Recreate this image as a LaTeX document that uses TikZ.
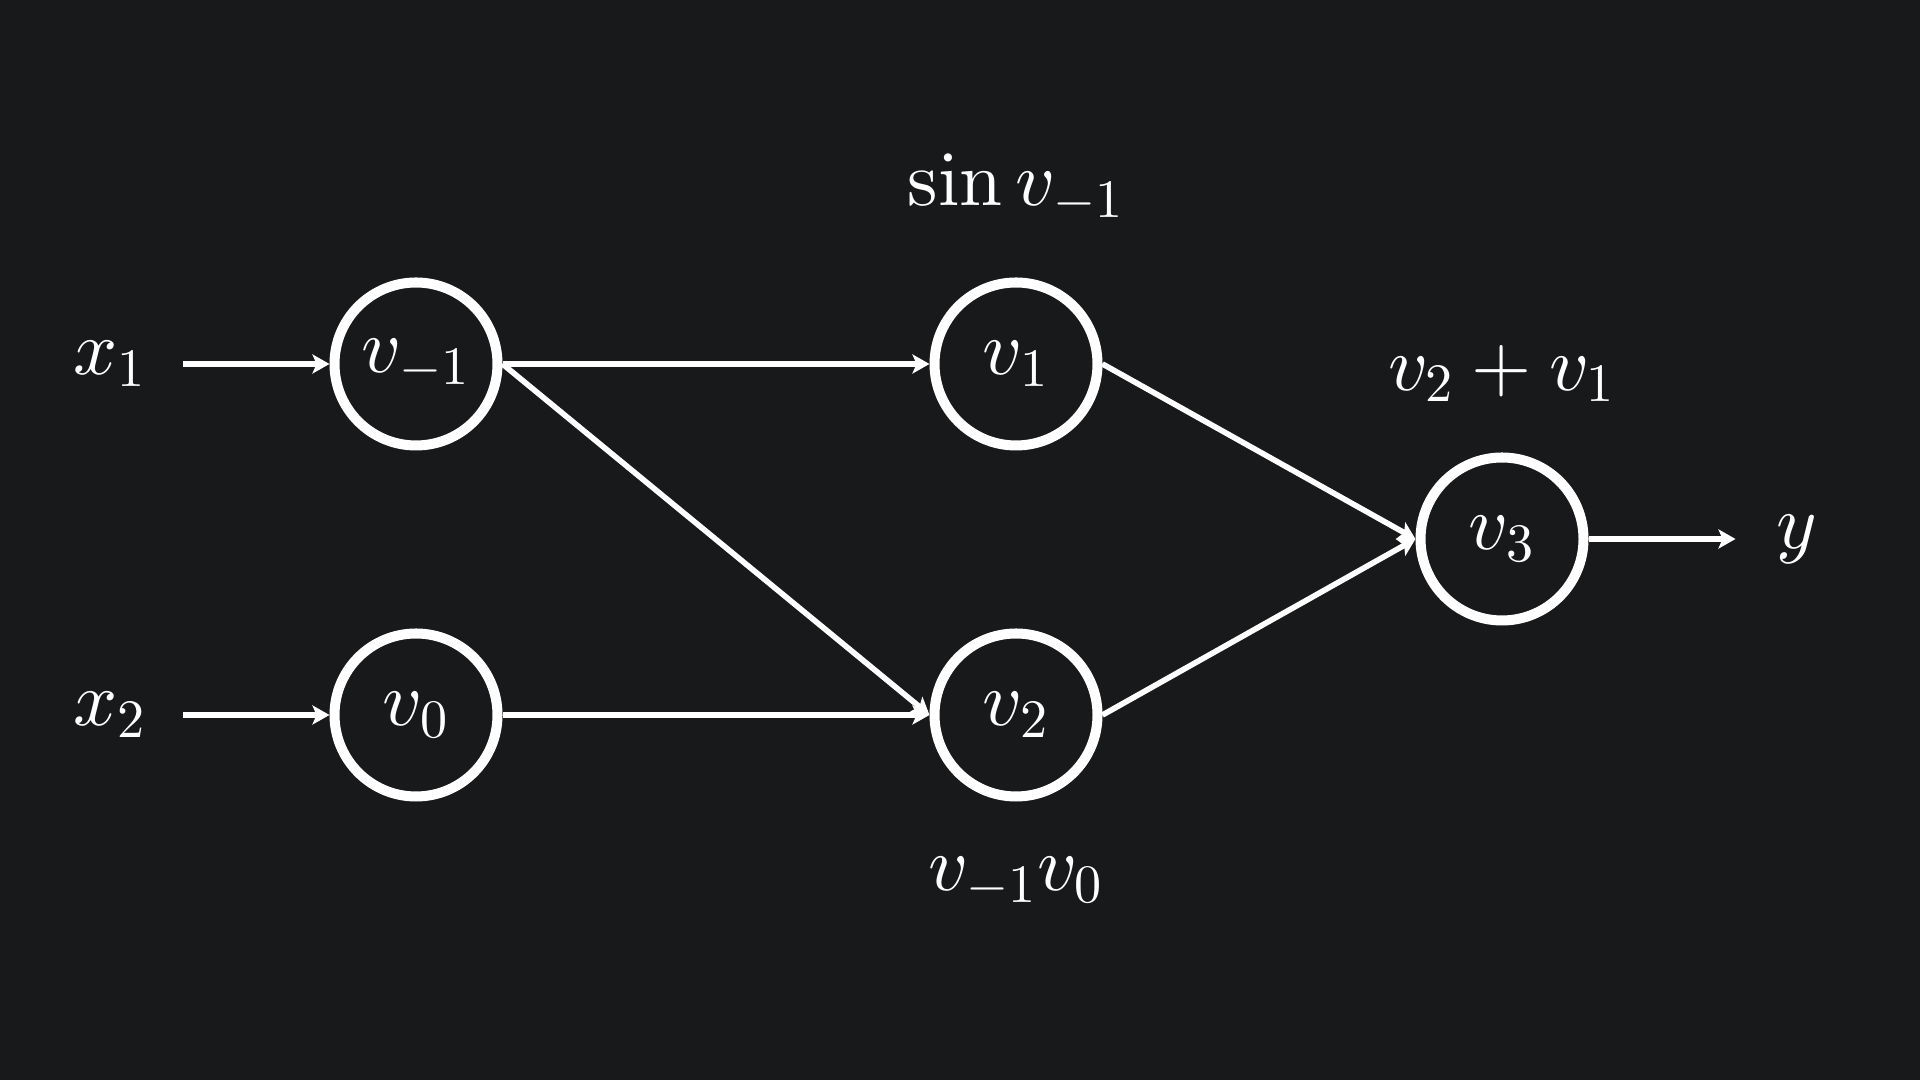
\documentclass[tikz,border=0pt]{standalone}
\usepackage{tikz}
\usetikzlibrary{arrows.meta,positioning}
\DeclareFontShape{OT1}{cmr}{m}{n}{<->cmr10}{}
\DeclareFontShape{OML}{cmm}{m}{it}{<->cmmi10}{}
\DeclareFontShape{OMS}{cmsy}{m}{n}{<->cmsy10}{}
\definecolor{graphbg}{HTML}{18191B}
\definecolor{graphfg}{HTML}{FFFFFF}

\begin{document}
\begin{tikzpicture}[
    var/.style={circle, draw=graphfg, fill=graphbg, line width=2.85pt, minimum size=1.63cm, inner sep=0pt, font=\fontsize{22}{26}\selectfont, text=graphfg},
    lbl/.style={inner sep=0pt, font=\fontsize{22}{26}\selectfont, text=graphfg},
    arr/.style={-{Stealth[length=1.7mm, width=1.9mm, inset=0.4mm]}, line width=1.6pt, draw=graphfg}
]
    \fill[graphbg] (0,0) rectangle (19.2,10.8);
    \useasboundingbox (0,0) rectangle (19.2,10.8);

    % Variables
    \node (vm1) [var] at (4.16,7.16) {$v_{-1}$};
    \node (v0) [var] at (4.16,3.65) {$v_0$};
    \node (v1) [var] at (10.16,7.16) {$v_1$};
    \node (v2) [var] at (10.16,3.65) {$v_2$};
    \node (v3) [var] at (15.02,5.41) {$v_3$};

    % Inputs, output and operations
    \node (x1) [lbl, left=1.82cm of vm1] {$x_1$};
    \node (x2) [lbl, left=1.82cm of v0] {$x_2$};
    \node (y) [lbl, right=1.87cm of v3] {$y$};
    \node (op1) [lbl, above=0.55cm of v1] {$\sin v_{-1}$};
    \node (op2) [lbl, below=0.55cm of v2] {$v_{-1}v_0$};
    \node (op3) [lbl, above=0.5cm of v3] {$v_2 + v_1$};

    \draw [arr, shorten <=0.36cm] (x1) -- (vm1);
    \draw [arr, shorten <=0.36cm] (x2) -- (v0);
    \draw [arr] (vm1.east) -- (v1.west);
    \draw [arr] (vm1.east) -- (v2.west);
    \draw [arr] (v0.east) -- (v2.west);
    \draw [arr] (v1.east) -- (v3.west);
    \draw [arr] (v2.east) -- (v3.west);
    \draw [arr, shorten >=0.4cm] (v3) -- (y);
\end{tikzpicture}
\end{document}
